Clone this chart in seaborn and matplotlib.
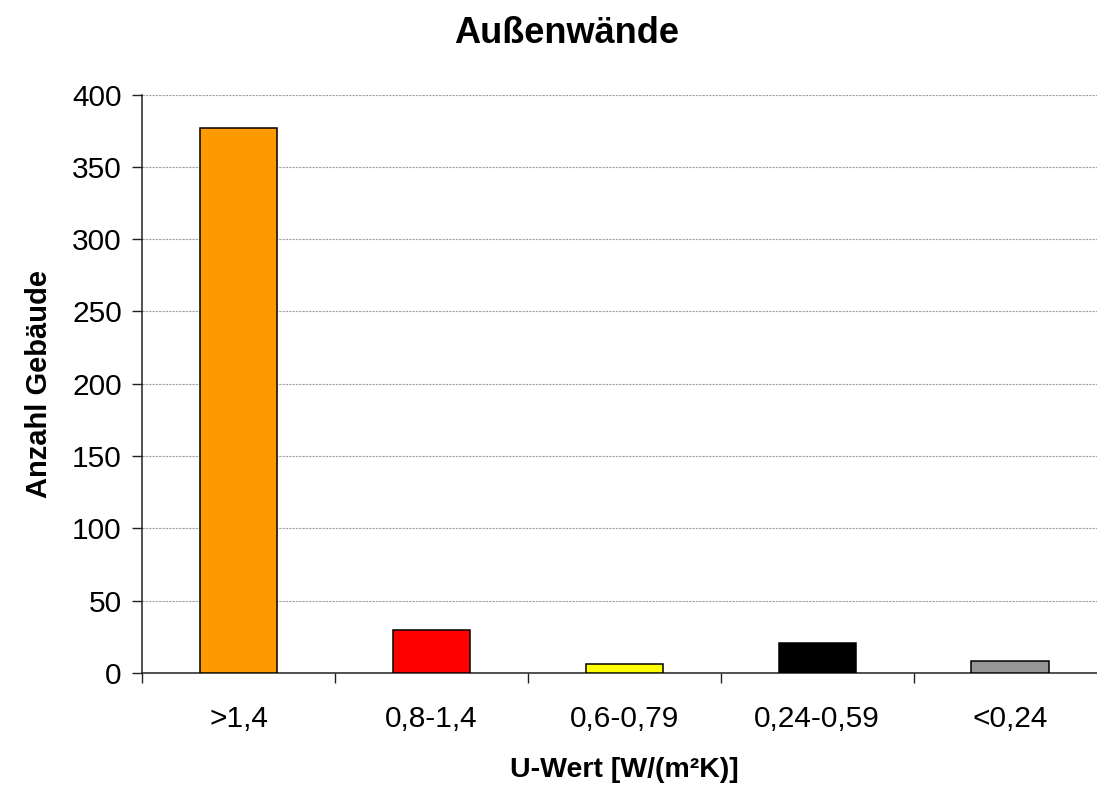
import matplotlib
matplotlib.use("Agg")
import matplotlib.pyplot as plt
import seaborn as sns
import pandas as pd

# ======================================
# Daten
# ======================================

klassen = [">1,4", "0,8-1,4", "0,6-0,79", "0,24-0,59", "<0,24"]
anzahl = [377, 30, 6, 21, 8]
farben = ["#FF9900", "#FF0000", "#FFFF00", "#000000", "#969696"]

df = pd.DataFrame({"klasse": klassen, "anzahl": anzahl})

# ======================================
# Stil
# ======================================

sns.set_style("white")
plt.rcParams["font.family"] = ["Liberation Sans", "DejaVu Sans"]
plt.rcParams["text.color"] = "black"
plt.rcParams["axes.labelcolor"] = "black"
plt.rcParams["xtick.color"] = "black"
plt.rcParams["ytick.color"] = "black"

fig = plt.figure(figsize=(10.97, 7.90), dpi=100)
ax = fig.add_axes([142 / 1097, 117 / 790, 964.5 / 1097, 578.5 / 790])

sns.barplot(data=df, x="klasse", y="anzahl", hue="klasse", palette=farben,
            width=0.4, edgecolor="black", linewidth=1.1, legend=False,
            saturation=1, ax=ax, zorder=3)

ax.set_xlim(-0.5, 4.5)
ax.set_ylim(0, 400)
ax.set_yticks(range(0, 401, 50))
ax.yaxis.grid(True, color="#a0a0a0", linestyle=(0, (2, 1)), linewidth=0.8, zorder=0)
ax.set_axisbelow(True)

# Ticks zwischen den Kategorien
ax.set_xticks([i - 0.5 for i in range(6)], minor=True)
ax.tick_params(axis="x", which="both", bottom=True)
ax.tick_params(axis="y", which="both", left=True)
ax.tick_params(axis="x", which="major", length=0, pad=23, labelsize=21.5)
ax.tick_params(axis="x", which="minor", length=7.5, width=1, direction="out", color="#222222")
ax.tick_params(axis="y", length=7.5, width=1, direction="out", pad=7, labelsize=21.5, color="#222222")

for s in ["top", "right"]:
    ax.spines[s].set_visible(False)
for s in ["left", "bottom"]:
    ax.spines[s].set_color("#222222")
    ax.spines[s].set_linewidth(1.1)

ax.set_xlabel("U-Wert [W/(m²K)]", fontsize=20.5, fontweight="bold", labelpad=17)
ax.set_ylabel("Anzahl Gebäude", fontsize=21, fontweight="bold", labelpad=14)

fig.text(567 / 1097, 1 - 43 / 790, "Außenwände", ha="center", va="baseline",
         fontsize=26, fontweight="bold")

plt.savefig("out.png", dpi=100)
plt.close()
